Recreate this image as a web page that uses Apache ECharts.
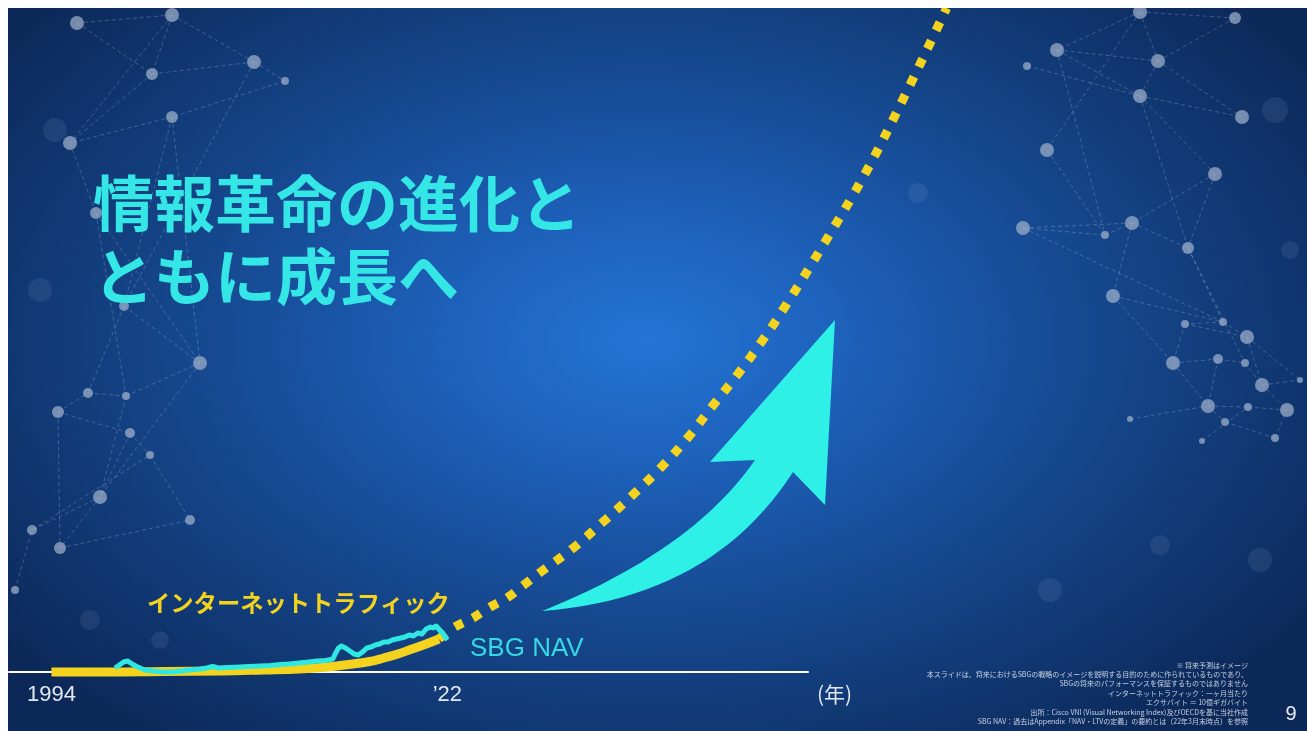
<!DOCTYPE html>
<html lang="ja">
<head>
<meta charset="utf-8">
<title>情報革命の進化とともに成長へ</title>
<script src="https://cdn.jsdelivr.net/npm/echarts@6/dist/echarts.min.js"></script>
<style>
  html, body { margin: 0; padding: 0; background: #ffffff; width: 1307px; height: 731px; overflow: hidden; }
  #chart {
    position: absolute; left: 8px; top: 8px; width: 1299px; height: 723px;
    background: radial-gradient(ellipse 62% 70% at 49% 46%,
      #2474d4 0%, #1e63be 22%, #174c96 50%, #113a76 75%, #0c2858 100%);
  }
</style>
</head>
<body>
<div id="chart"></div>
<script>
// ---- Data (years on x, unit-less growth index on y) ----
// Internet traffic, actual
const trafficYears  = [1994, 1998, 2002, 2006, 2009, 2011.5, 2013.5, 2015, 2016.5, 2017.5, 2018.5, 2019.5, 2020.5, 2021.4];
const trafficValues = [0,    0,    0.5,  1,    2,    3,      5,      7.5,  10.5,   14,     18,     23,     28,     33];

// Internet traffic, projected (runs up to the top of the scale)
const projYears  = [2021.4, 2022.4, 2023.8, 2024.9, 2026.3, 2027.4, 2028.6, 2030.9, 2033, 2035.1, 2037.2, 2039.1, 2040.8, 2042.6, 2044.3, 2045.9, 2048.7, 2051.6, 2054.4, 2057.3];
const projValues = [33,     44,     54,     64,     75,     87,     100,    124,    150,  177,    206,    236,    267,    299,    332,    366,    430,    500,    578,    664];

// SBG NAV
const navYears  = [1998.5, 1998.8, 1999.1, 1999.4, 1999.7, 2000.1, 2000.6, 2001.2, 2001.8, 2002.5, 2003.2, 2003.8, 2004.5, 2005.0, 2005.4, 2005.8, 2006.5, 2007.3, 2008.0, 2008.8, 2009.5, 2010.2, 2010.8, 2011.5, 2012.2, 2012.8, 2013.4, 2013.9, 2014.1, 2014.3, 2014.5, 2014.8, 2015.1, 2015.4, 2015.7, 2016.0, 2016.3, 2016.6, 2016.9, 2017.2, 2017.5, 2017.8, 2018.1, 2018.4, 2018.7, 2019.0, 2019.3, 2019.6, 2019.9, 2020.2, 2020.5, 2020.8, 2021.0, 2021.2, 2021.45, 2021.7, 2022.0];
const navValues = [4,      7,      10,     11,     8,      5,      2,      1,      0,      0,      1,      2,      3,      4,      5.5,    4,      4.5,    5,      5.5,    6,      6.5,    7.5,    8,      9,      10,     11,     11.5,   13,     19,     24,     26,     24,     21,     18,     17,     20,     24,     25,     27,     28,     30,     30,     32,     33,     34,     35,     37,     36,     39,     38,     43,     45,     44,     46,     42,     38,     32];

// Axis: visible span of the time line, and its tick labels
const axisStartYear = 1991;
const axisEndYear   = 2047.5;
const plotEndYear   = 2060;
const indexMax      = 664;
const tickYears  = [1994, 2022];
const tickLabels = ['1994', '\u201922'];
const axisUnit   = '(年)';

// Text
const titleLines = ['情報革命の進化と', 'ともに成長へ'];
const trafficLabel = 'インターネットトラフィック';
const navLabel = 'SBG NAV';
const pageNumber = '9';
const footnotes = [
  '※ 将来予測はイメージ',
  '本スライドは、将来におけるSBGの戦略のイメージを説明する目的のために作られているものであり、',
  'SBGの将来のパフォーマンスを保証するものではありません',
  'インターネットトラフィック：一ヶ月当たり',
  'エクサバイト ＝ 10億ギガバイト',
  '出所：Cisco VNI (Visual Networking Index)及びOECDを基に当社作成',
  'SBG NAV：過去はAppendix「NAV・LTVの定義」の要約とは（22年3月末時点）を参照'
];

// ---- Styling ----
const YELLOW = '#f3d31d';
const CYAN = '#2fe8e2';
const TITLE_CYAN = '#34e7e6';
const AXIS_TEXT = '#e2e8f1';
const JP_FONT = '"Noto Sans CJK JP", "Noto Sans", sans-serif';
const LATIN_FONT = '"Liberation Sans", Arial, sans-serif';

const pairs = (xs, ys) => xs.map((x, i) => [x, ys[i]]);

// Decorative network background (slide art), page coordinates
const OFF = 8;
const netNodes = [
  // left cluster
  [77,23,7],[172,15,7],[152,74,6],[254,62,7],[285,81,4],[172,117,6],[70,143,7],[96,213,6],[124,306,5],[200,363,7],
  [88,393,5],[126,396,4],[58,412,6],[100,497,7],[32,530,5],[60,548,6],[150,455,4],[190,520,5],[15,590,4],[130,433,5],
  // right cluster
  [1140,12,7],[1235,18,6],[1057,50,7],[1158,61,7],[1027,66,4],[1140,96,7],[1242,117,7],[1047,150,7],[1215,174,7],[1023,228,7],
  [1105,235,4],[1132,223,7],[1188,248,6],[1113,296,7],[1223,322,4],[1185,324,4],[1247,337,7],[1173,363,7],[1218,359,5],[1245,363,4],
  [1262,385,7],[1208,406,7],[1248,407,4],[1287,410,7],[1130,419,3],[1225,422,4],[1275,438,4],[1202,441,3],[1300,380,3]
];
const R = 20; // first right-cluster index
const netEdges = [
  [0,1],[0,2],[1,2],[1,3],[2,3],[2,6],[1,6],[3,4],[4,5],[5,6],[3,8],[5,8],[6,7],[7,9],[8,9],[8,10],[9,11],[10,11],
  [11,13],[12,10],[12,19],[19,13],[13,14],[13,15],[14,16],[15,17],[9,13],[7,11],[16,17],[18,14],[19,16],[12,15],[5,9],
  ...[[0,1],[0,3],[2,3],[0,2],[1,3],[3,6],[4,5],[2,5],[5,6],[3,5],[0,7],[2,10],[7,10],[5,8],[5,12],[8,12],[9,10],[9,11],
      [11,12],[10,11],[8,11],[11,13],[12,14],[13,14],[9,14],[14,15],[15,16],[14,16],[13,17],[15,17],[16,20],[17,18],[18,19],
      [19,20],[17,21],[18,21],[21,22],[22,23],[20,23],[24,21],[21,25],[25,26],[26,23],[27,22],[16,28],[20,28],[12,19]]
      .map(([a, b]) => [a + R, b + R])
];
const bokeh = [[55,130,12],[90,620,10],[40,290,12],[160,640,9],[1275,110,13],[1050,590,12],[1160,545,10],[1260,560,12],[918,193,10],[1290,250,9]];

const graphics = [];
bokeh.forEach(([x, y, r]) => graphics.push({
  type: 'circle', z: 0, silent: true,
  shape: { cx: x - OFF, cy: y - OFF, r },
  style: { fill: 'rgba(150,170,210,0.13)' }
}));
netEdges.forEach(([a, b]) => graphics.push({
  type: 'line', z: 0, silent: true,
  shape: { x1: netNodes[a][0] - OFF, y1: netNodes[a][1] - OFF, x2: netNodes[b][0] - OFF, y2: netNodes[b][1] - OFF },
  style: { stroke: 'rgba(195,210,235,0.28)', lineWidth: 1, lineDash: [4, 3] }
}));
netNodes.forEach(([x, y, r]) => graphics.push({
  type: 'circle', z: 0, silent: true,
  shape: { cx: x - OFF, cy: y - OFF, r },
  style: { fill: 'rgba(160,176,202,0.72)' }
}));

// Growth arrow: curved body (two quadratic edges) plus a barbed head
function quad(p0, c, p1, n) {
  const pts = [];
  for (let i = 0; i <= n; i++) {
    const t = i / n, u = 1 - t;
    pts.push([u * u * p0[0] + 2 * u * t * c[0] + t * t * p1[0],
              u * u * p0[1] + 2 * u * t * c[1] + t * t * p1[1]]);
  }
  return pts;
}
const arrowPts = [
  ...quad([534, 603], [684, 543], [747, 452], 24),
  [702, 454], [827, 312], [817, 497], [785, 464],
  ...quad([785, 464], [704, 590], [534, 603], 24).slice(1)
];
graphics.push({
  type: 'polygon', z: 10, silent: true,
  shape: { points: arrowPts },
  style: { fill: '#2ef0e6' }
});

// Title
titleLines.forEach((t, i) => graphics.push({
  type: 'text', z: 10, silent: true,
  style: { text: t, x: 85, y: 196 + i * 73, align: 'left', verticalAlign: 'middle',
           fontSize: 61, fontWeight: 'bold', fontFamily: JP_FONT, fill: TITLE_CYAN }
}));

// Series annotations
graphics.push({
  type: 'text', z: 10, silent: true,
  style: { text: trafficLabel, x: 139, y: 595, align: 'left', verticalAlign: 'middle',
           fontSize: 23.3, fontWeight: 'bold', fontFamily: JP_FONT, fill: YELLOW }
});
graphics.push({
  type: 'text', z: 10, silent: true,
  style: { text: navLabel, x: 462, y: 641, align: 'left', verticalAlign: 'middle',
           fontSize: 26, fontFamily: LATIN_FONT, fill: '#36d9e2' }
});

// Footnotes
footnotes.forEach((t, i) => graphics.push({
  type: 'text', z: 10, silent: true,
  style: { text: t, x: 1240, y: 657 + i * 9.4, align: 'right', verticalAlign: 'middle',
           fontSize: 7, fontFamily: JP_FONT, fill: 'rgba(225,232,245,0.85)' }
}));

// Page number
graphics.push({
  type: 'text', z: 10, silent: true,
  style: { text: pageNumber, x: 1283, y: 706, align: 'center', verticalAlign: 'middle',
           fontSize: 20, fontFamily: LATIN_FONT, fill: '#e8eef7' }
});

const chart = echarts.init(document.getElementById('chart'), null, { renderer: 'canvas' });
chart.setOption({
  backgroundColor: 'transparent',
  animation: false,
  grid: [
    // plotting area: wide enough for the projection to reach the top edge
    { left: 1, right: 322.2, top: 0, bottom: 59, containLabel: false },
    // the drawn time line with its unit
    { left: 1, right: 499, top: 0, bottom: 59, containLabel: false }
  ],
  xAxis: [
    {
      gridIndex: 0, type: 'value', min: axisStartYear, max: plotEndYear,
      axisLine: { show: false }, axisTick: { show: false }, splitLine: { show: false },
      axisLabel: {
        customValues: tickYears,
        formatter: (v) => { const i = tickYears.indexOf(v); return i >= 0 ? tickLabels[i] : ''; },
        color: AXIS_TEXT, fontSize: 22, fontFamily: LATIN_FONT, margin: 12
      }
    },
    {
      gridIndex: 1, type: 'value', min: axisStartYear, max: axisEndYear,
      axisLine: { show: true, lineStyle: { color: '#ffffff', width: 2 } },
      axisTick: { show: false }, splitLine: { show: false }, axisLabel: { show: false },
      name: axisUnit, nameLocation: 'end', nameGap: 9,
      nameTextStyle: { color: AXIS_TEXT, fontSize: 21, fontFamily: JP_FONT, verticalAlign: 'top', padding: [12, 0, 0, 0] }
    }
  ],
  yAxis: [
    { gridIndex: 0, type: 'value', min: 0, max: indexMax, show: false },
    { gridIndex: 1, type: 'value', min: 0, max: indexMax, show: false }
  ],
  series: [
    {
      name: trafficLabel, type: 'line', data: pairs(trafficYears, trafficValues),
      smooth: 0.4, symbol: 'none', clip: false, z: 2,
      lineStyle: { color: YELLOW, width: 9, cap: 'butt' }
    },
    {
      name: trafficLabel + '（予測）', type: 'line', data: pairs(projYears, projValues),
      smooth: 0.4, symbol: 'none', clip: false, z: 2,
      lineStyle: { color: YELLOW, width: 9, type: [9, 11], cap: 'butt' }
    },
    {
      name: navLabel, type: 'line', data: pairs(navYears, navValues),
      symbol: 'none', clip: false, z: 3,
      lineStyle: { color: CYAN, width: 5, join: 'round' }
    }
  ],
  graphic: { elements: graphics }
});
</script>
</body>
</html>
